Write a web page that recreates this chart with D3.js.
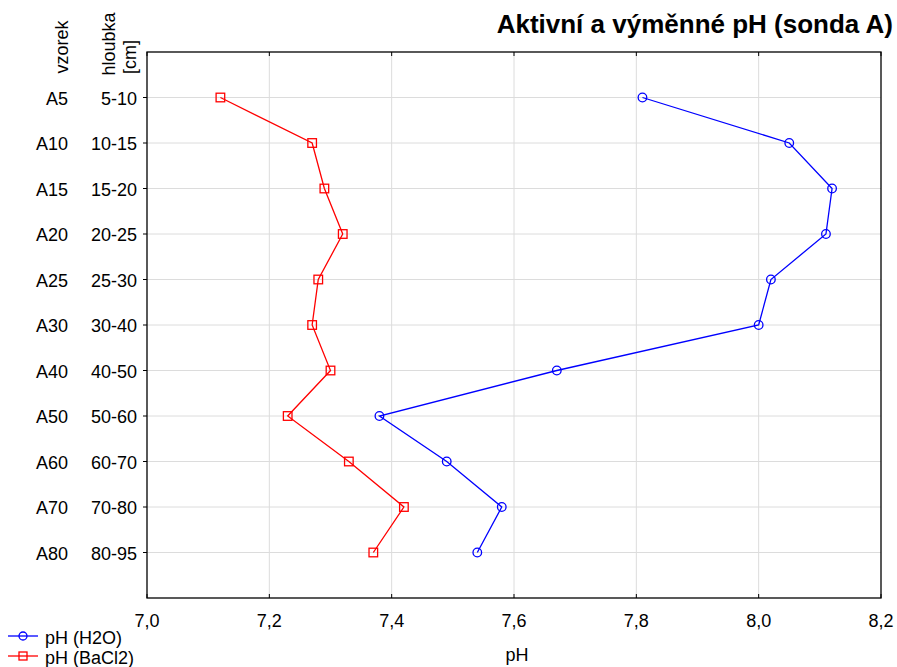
<!DOCTYPE html>
<html>
<head>
<meta charset="utf-8">
<script src="https://cdn.jsdelivr.net/npm/d3@7"></script>
<style>
  body { margin: 0; background: #fff; }
  svg text { font-family: "Liberation Sans", Arial, sans-serif; fill: #000; }
</style>
</head>
<body>
<svg id="chart" width="897" height="667"></svg>
<script>
// data
var samples = ["A5", "A10", "A15", "A20", "A25", "A30", "A40", "A50", "A60", "A70", "A80"];
var depths = ["5-10", "10-15", "15-20", "20-25", "25-30", "30-40", "40-50", "50-60", "60-70", "70-80", "80-95"];
var phH2O = [7.81, 8.05, 8.12, 8.11, 8.02, 8.00, 7.67, 7.38, 7.49, 7.58, 7.54];
var phBaCl2 = [7.12, 7.27, 7.29, 7.32, 7.28, 7.27, 7.30, 7.23, 7.33, 7.42, 7.37];
var xTicks = [7.0, 7.2, 7.4, 7.6, 7.8, 8.0, 8.2];

var svg = d3.select("#chart");
var plotL = 147, plotR = 881, plotT = 52, plotB = 598;
var fs = 18;

var x = d3.scaleLinear().domain([7.0, 8.2]).range([plotL, plotR]);
var y = d3.scalePoint().domain(samples).range([plotT, plotB]).padding(1);

// grid
svg.append("g").selectAll("line").data(xTicks.slice(1, -1)).enter().append("line")
  .attr("x1", function (d) { return x(d) }).attr("x2", function (d) { return x(d) })
  .attr("y1", plotT).attr("y2", plotB)
  .attr("stroke", "#dcdcdc").attr("stroke-width", 1);
svg.append("g").selectAll("line").data(samples).enter().append("line")
  .attr("x1", plotL).attr("x2", plotR)
  .attr("y1", function (d) { return y(d) }).attr("y2", function (d) { return y(d) })
  .attr("stroke", "#dcdcdc").attr("stroke-width", 1);

// frame
svg.append("rect").attr("x", plotL).attr("y", plotT)
  .attr("width", plotR - plotL).attr("height", plotB - plotT)
  .attr("fill", "none").attr("stroke", "#000").attr("stroke-width", 1.3);

// ticks on x (inside, top and bottom)
var xt = svg.append("g");
xTicks.forEach(function (t) {
  xt.append("line").attr("x1", x(t)).attr("x2", x(t)).attr("y1", plotB).attr("y2", plotB - 4).attr("stroke", "#000");
  xt.append("line").attr("x1", x(t)).attr("x2", x(t)).attr("y1", plotT).attr("y2", plotT + 4).attr("stroke", "#000");
  xt.append("text").attr("x", x(t)).attr("y", 627).attr("text-anchor", "middle")
    .attr("font-size", fs).text(d3.format(".1f")(t).replace(".", ","));
});

// ticks on y (outside, left) and labels
var yt = svg.append("g");
samples.forEach(function (s, i) {
  yt.append("line").attr("x1", plotL - 4).attr("x2", plotL).attr("y1", y(s)).attr("y2", y(s)).attr("stroke", "#000");
  yt.append("text").attr("x", 68).attr("y", y(s) + 7).attr("text-anchor", "end")
    .attr("font-size", fs).text(s);
  yt.append("text").attr("x", 137).attr("y", y(s) + 7).attr("text-anchor", "end")
    .attr("font-size", fs).text(depths[i]);
});

// column headers (rotated)
function vlabel(tx, ty, txt) {
  svg.append("text").attr("transform", "translate(" + tx + "," + ty + ") rotate(-90)")
    .attr("text-anchor", "middle").attr("font-size", fs).text(txt);
}
vlabel(68, 47, "vzorek");
vlabel(115, 44, "hloubka");
vlabel(136, 57, "[cm]");

// title and axis label
svg.append("text").attr("x", 893).attr("y", 33).attr("text-anchor", "end")
  .attr("font-size", 26).attr("font-weight", "bold").text("Aktivní a výměnné pH (sonda A)");
svg.append("text").attr("x", (plotL + plotR) / 2 + 3).attr("y", 661).attr("text-anchor", "middle")
  .attr("font-size", fs).text("pH");

// series
var line = d3.line()
  .x(function (d) { return x(d.v) })
  .y(function (d) { return y(d.s) });

function series(vals, color, shape) {
  var pts = vals.map(function (v, i) { return { v: v, s: samples[i] } });
  var g = svg.append("g");
  if (shape === "circle") {
    g.selectAll("circle").data(pts).enter().append("circle")
      .attr("cx", function (d) { return x(d.v) }).attr("cy", function (d) { return y(d.s) })
      .attr("r", 4.3).attr("fill", "none").attr("stroke", color).attr("stroke-width", 1.3);
  } else {
    g.selectAll("rect").data(pts).enter().append("rect")
      .attr("x", function (d) { return x(d.v) - 4.3 }).attr("y", function (d) { return y(d.s) - 4.3 })
      .attr("width", 8.6).attr("height", 8.6)
      .attr("fill", "none").attr("stroke", color).attr("stroke-width", 1.3);
  }
  g.append("path").datum(pts).attr("d", line)
    .attr("fill", "none").attr("stroke", color).attr("stroke-width", 1.3);
}
series(phH2O, "#0000ff", "circle");
series(phBaCl2, "#ff0000", "square");

// legend
var legend = [
  { name: "pH (H2O)", color: "#0000ff", shape: "circle" },
  { name: "pH (BaCl2)", color: "#ff0000", shape: "square" }
];
legend.forEach(function (l, i) {
  var ly = 636 + i * 20;
  svg.append("line").attr("x1", 8).attr("x2", 38).attr("y1", ly).attr("y2", ly)
    .attr("stroke", l.color).attr("stroke-width", 1.3);
  if (l.shape === "circle") {
    svg.append("circle").attr("cx", 23).attr("cy", ly).attr("r", 4)
      .attr("fill", "none").attr("stroke", l.color).attr("stroke-width", 1.3);
  } else {
    svg.append("rect").attr("x", 19).attr("y", ly - 4).attr("width", 8).attr("height", 8)
      .attr("fill", "none").attr("stroke", l.color).attr("stroke-width", 1.3);
  }
  svg.append("text").attr("x", 45).attr("y", ly + 8).attr("font-size", fs).text(l.name);
});
</script>
</body>
</html>
